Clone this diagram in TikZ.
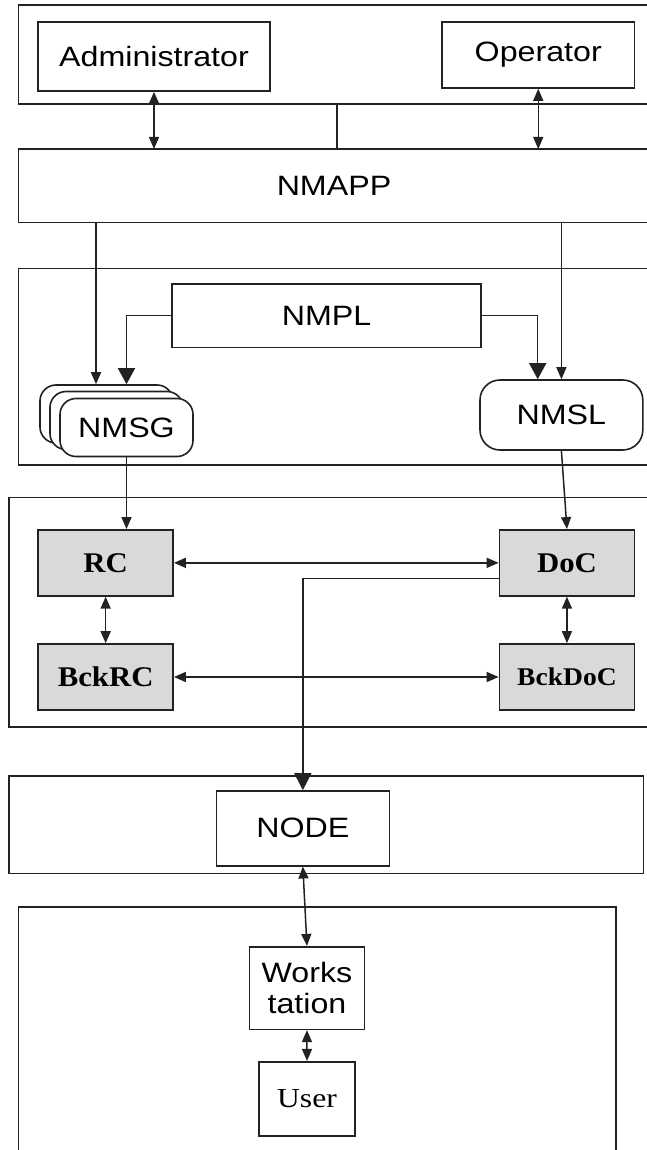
\documentclass[tikz,border=0pt]{standalone}
\usepackage{fontspec}
\setmainfont{Liberation Sans}[FakeStretch=1.15]
\newfontfamily\serifbf{Liberation Serif}[FakeStretch=1.08]
\newfontfamily\serifrm{Liberation Serif}[FakeStretch=1.15]
\usetikzlibrary{arrows.meta,calc}
\definecolor{linec}{HTML}{222222}
\definecolor{boxgray}{HTML}{D9D9D9}
\tikzset{
  sbox/.style={draw=linec, line width=1.6pt, rectangle, inner sep=0pt, font=\fontsize{28}{31.7}\selectfont, align=center},
  rbox/.style={sbox, rounded corners=16pt, fill=white},
  gbox/.style={draw=linec, line width=1.6pt, rectangle, inner sep=0pt, fill=boxgray, minimum width=135pt, minimum height=66pt, font=\serifbf\bfseries\fontsize{28.5}{32}\selectfont},
  frame/.style={draw=linec, line width=1.6pt},
  conn/.style={draw=linec, line width=1.5pt},
  stip/.tip={Triangle[length=12pt,width=10pt]},
  btip/.tip={Triangle[length=16pt,width=17pt]},
  arr/.style={conn, -stip},
  darr/.style={conn, stip-stip},
  barr/.style={conn, -btip}
}
\begin{document}
\begin{tikzpicture}[x=1pt,y=-1pt]
\useasboundingbox[fill=white] (0,0) rectangle (646,1150);
% frames
\draw[frame] (680,5) -- (18.5,5) -- (18.5,104) -- (680,104);
\draw[frame] (680,268.3) -- (18.5,268.3) -- (18.5,465) -- (680,465);
\draw[frame] (680,497.3) -- (9,497.3) -- (9,726.7) -- (680,726.7);
\draw[frame] (9,775.7) rectangle (643.6,873.3);
\draw[frame] (18.5,1170) -- (18.5,906.7) -- (616,906.7) -- (616,1170);
\coordinate (f1b) at (337,104);
% top layer
\node[sbox, minimum width=232pt, minimum height=69pt] (admin) at (154,56.5) {Administrator};
\node[sbox, minimum width=192.5pt, minimum height=66pt] (oper) at (538.25,55) {Operator};
\draw[frame] (680,149) -- (18.5,149) -- (18.5,222.7) -- (680,222.7);
\node[inner sep=0pt, font=\fontsize{28}{31.7}\selectfont] (nmapp) at (334,186) {NMAPP};
\coordinate (nmappS) at (334,222.7);
\coordinate (nmappN) at (334,149);
% second layer
\node[sbox, minimum width=309pt, minimum height=63.3pt] (nmpl) at (326.5,315.7) {NMPL};
\node[rbox, minimum width=133pt, minimum height=58pt] (nmsgA) at (106.5,414) {};
\node[rbox, minimum width=133pt, minimum height=58pt] (nmsgB) at (116.5,420.5) {};
\node[rbox, minimum width=133pt, minimum height=58pt] (nmsgF) at (126.5,427.5) {NMSG};
\node[rbox, rounded corners=20pt, minimum width=162.8pt, minimum height=70pt] (nmsl) at (561.4,415) {NMSL};
% third layer
\node[gbox] (rc) at (105.65,562.85) {RC};
\node[gbox] (doc) at (566.95,562.85) {DoC};
\node[gbox] (bckrc) at (105.65,677) {BckRC};
\node[gbox, font=\serifbf\bfseries\fontsize{25.5}{30}\selectfont] (bckdoc) at (566.95,677) {BckDoC};
% fourth/fifth layer
\node[sbox, minimum width=173.1pt, minimum height=74.7pt] (node) at (302.85,828.35) {NODE};
\node[sbox, minimum width=115.3pt, minimum height=82.6pt] (ws) at (306.95,988) {Works\\tation};
\node[sbox, minimum width=96.4pt, minimum height=74.3pt, font=\serifrm\fontsize{27.5}{32}\selectfont] (user) at (307,1098.85) {User};
% connectors
\draw[darr] (admin.south) -- (admin.south |- nmappN);
\draw[conn] (f1b) -- (f1b |- nmappN);
\draw[darr] (oper.south) -- (oper.south |- nmappN);
\draw[arr] (96,0 |- nmappS) -- (96,0 |- nmsgA.north);
\draw[arr] (nmsl.north |- nmappS) -- (nmsl.north);
\draw[barr] (nmpl.west) -| (nmsgF.north |- nmsgA.north);
\draw[barr] (nmpl.east) -| (537.7,0 |- nmsl.north);
\draw[arr] (nmsgF.south) -- (nmsgF.south |- rc.north);
\draw[arr] (nmsl.south) -- (doc.north);
\draw[darr] (rc.east) -- (doc.west);
\draw[darr] (rc.south) -- (bckrc.north);
\draw[darr] (doc.south) -- (bckdoc.north);
\draw[darr] (bckrc.east) -- (bckdoc.west);
\draw[conn, -{Triangle[length=17pt,width=17pt]}] ($(doc.west)+(0,15.5)$) -| (node.north);
\draw[darr] (node.south) -- (ws.north);
\draw[darr] (ws.south) -- (user.north);
\end{tikzpicture}
\end{document}
